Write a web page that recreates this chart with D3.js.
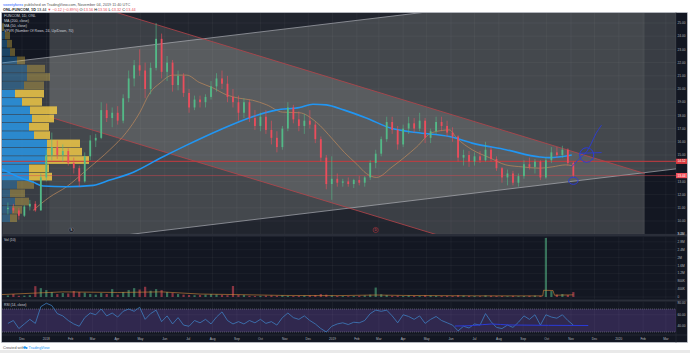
<!DOCTYPE html>
<html>
<head>
<meta charset="utf-8">
<script src="https://cdnjs.cloudflare.com/ajax/libs/d3/7.8.5/d3.min.js"></script>
<style>
  html, body { margin: 0; padding: 0; background: #fff; }
  svg { display: block; font-family: "Liberation Sans", Arial, sans-serif; }
</style>
</head>
<body>
<svg id="chart" width="690" height="353"></svg>
<script>
/* ---------- data (weekly bars) ---------- */
const weekOpen = [10.9,11.0,10.8,10.4,11.1,11.3,10.8,13.3,15.0,15.6, 15.0,15.3,14.4,14.0,13.0,14.9,16.1,16.3,18.4,17.8,
  18.2,17.6,19.3,20.8,21.8,21.4,20.0,21.6,23.8,21.3, 22.0,20.3,21.0,19.7,18.6,19.2,19.0,19.4,20.2,20.8,
  20.4,19.4,19.0,18.2,19.0,17.8,17.2,17.9,16.9,16.3, 15.6,17.0,18.6,17.7,17.2,17.6,17.3,16.2,14.8,12.8,
  13.2,12.9,13.0,12.8,13.1,12.9,13.3,14.4,15.1,16.2, 17.5,16.9,15.8,17.0,17.4,17.0,17.6,16.3,16.8,17.5,
  17.2,16.7,16.4,14.8,15.0,14.5,14.9,14.6,15.4,14.7, 14.0,13.3,13.6,12.9,13.4,14.3,14.1,14.5,13.3,14.6,
  15.2,15.0,15.4,14.4];
const weekHigh = [11.4,11.3,11.0,11.2,11.6,11.5,13.6,15.4,16.7,16.1, 15.8,15.5,14.8,14.2,15.2,16.5,16.6,19.0,18.9,18.6,
  18.7,19.6,21.4,22.2,23.0,22.0,22.0,25.0,24.2,22.5, 22.2,21.4,21.2,20.0,19.5,19.5,19.6,20.6,21.2,21.4,
  21.0,20.0,19.5,19.3,19.2,18.4,18.2,18.4,17.6,16.8, 17.2,19.0,18.8,18.3,18.1,18.4,17.5,16.4,15.0,14.9,
  13.6,13.2,13.3,13.2,13.4,13.4,14.6,15.4,16.4,17.9, 17.9,17.2,17.3,17.9,17.8,18.2,17.8,17.0,17.9,17.9,
  17.6,17.1,16.5,15.4,15.3,15.2,15.3,16.0,15.6,14.9, 14.1,13.9,13.8,13.6,14.6,14.8,14.7,14.6,14.8,15.6,
  15.6,15.7,15.5,14.5];
const weekLow = [10.5,10.6,10.1,10.3,10.8,10.7,10.8,13.0,14.6,14.7, 14.5,14.2,13.6,12.6,12.9,14.6,15.6,16.2,17.5,17.1,
  17.3,17.4,19.0,20.2,21.0,19.3,19.6,21.4,20.8,20.6, 19.8,19.9,19.4,18.2,18.4,18.6,18.6,19.2,19.8,20.0,
  19.0,18.6,17.6,17.8,17.5,16.9,16.8,16.6,15.8,15.2, 15.4,16.8,17.4,16.8,16.6,17.0,15.9,14.5,12.4,11.6,
  12.6,12.6,12.6,12.5,12.7,12.6,13.1,14.0,14.9,16.0, 16.6,15.4,15.6,16.6,16.7,16.8,15.9,15.9,16.6,16.8,
  16.4,16.0,14.5,14.2,14.1,14.2,14.4,14.5,14.5,13.8, 12.9,12.7,12.7,12.6,13.2,13.9,13.6,13.1,13.2,14.4,
  14.8,14.8,14.2,13.3];
const weekClose = [11.0,10.8,10.4,11.1,11.3,10.8,13.3,15.0,15.6,15.0, 15.3,14.4,14.0,13.0,14.9,16.1,16.3,18.4,17.8,18.2,
  17.6,19.3,20.8,21.8,21.4,20.0,21.6,23.8,21.3,22.0, 20.3,21.0,19.7,18.6,19.2,19.0,19.4,20.2,20.8,20.4,
  19.4,19.0,18.2,19.0,17.8,17.2,17.9,16.9,16.3,15.6, 17.0,18.6,17.7,17.2,17.6,17.3,16.2,14.8,12.8,13.2,
  12.9,13.0,12.8,13.1,12.9,13.3,14.4,15.1,16.2,17.5, 16.9,15.8,17.0,17.4,17.0,17.6,16.3,16.8,17.5,17.2,
  16.7,16.4,14.8,15.0,14.5,14.9,14.6,15.4,14.7,14.0, 13.3,13.6,12.9,13.4,14.3,14.1,14.5,13.3,14.6,15.2,
  15.0,15.4,14.4,13.44];
// volume in thousands
const weekVolK = [80,150,60,70,90,550,450,350,250,150, 200,180,300,250,220,150,120,200,150,400,
  120,250,350,450,380,520,320,400,350,250, 200,150,120,100,90,100,120,150,130,100,
  90,560,120,100,60,50,60,70,80,60, 90,60,50,60,70,80,100,150,120,80,
  60,50,40,50,60,80,120,480,140,100, 60,70,50,80,60,50,90,70,60,50,
  60,50,90,70,60,50,40,80,60,50, 50,40,60,40,50,60,70,60,3000,300,
  120,150,100,250];
const rsiWeekly = [45,50,36,44,52,45,74,80,76,62, 58,50,44,40,55,63,60,70,58,63,
  56,66,70,66,73,52,62,68,48,58, 44,55,42,40,50,46,52,44,56,65,
  50,44,48,44,50,46,52,45,48,42, 55,63,55,52,58,50,44,36,30,40,
  44,46,43,47,46,50,62,68,66,68, 58,46,60,57,52,58,45,52,57,50,
  46,42,32,40,37,44,42,62,48,38, 36,42,38,47,58,52,60,42,60,56,
  54,60,50,42];

// moving averages: [week number, value]
const ma200Pts = [[-1.4,14.0],[2.2,13.3],[4.6,12.95],[6.4,12.65],[10.7,12.6],[15.5,12.7],[18.6,13.1],[22.8,13.7],
  [27.7,14.75],[32.6,15.75],[38.6,16.9],[44.6,17.9],[48.9,18.4],[53.1,18.6],[55.5,18.85],[58,18.8],[61.3,18.4],
  [65.3,17.8],[70,17.0],[74.4,16.7],[80.4,16.4],[84.6,15.9],[90.7,15.4],[96.8,14.85],[98.6,14.8],[102.7,15.0]];
const ma50Pts = [[4.6,10.8],[7.6,11.8],[10.7,12.6],[14.4,13.9],[18.6,15.4],[21.6,16.7],[24,18.2],[25.8,19.7],
  [27.7,20.45],[30,21.05],[32.6,21.05],[34.9,20.5],[37.3,20.1],[39.8,19.55],[42.2,19.3],[44.6,19.15],[47.1,18.8],
  [50,18.25],[53.1,18.2],[56.2,17.5],[59.1,16.2],[61.3,15.2],[63.5,14.3],[65.3,13.6],[67.1,13.3],[70,14.1],
  [74.4,15.6],[77.3,16.7],[80.4,16.9],[81.7,16.3],[84.6,15.4],[87.7,14.8],[90.7,14.25],[93.7,14.1],[96.8,14.0],
  [99.1,14.1],[101.6,14.25],[102.7,14.2]];
const volMaPts = [[-1.4,120],[5,200],[10,260],[20,230],[28,260],[35,150],[42,120],[50,80],[60,70],[67,100],
  [72,80],[85,60],[97.4,55],[97.6,340],[99.3,330],[99.6,90],[103,110]];

// volume profile (24 rows, top row first)
const vpUp   = [0,3,5,8,15,25,25,22,13,20,28,30,27,32,45,45,43,27,27,15,8,13,10,8];
const vpDown = [2,5,5,5,8,18,23,20,29,20,27,22,20,16,33,35,44,20,23,17,15,14,10,7];
const vpValueArea = [8, 18];

// drawings: [date, price]
const descUpper = [["2018-01-05",27.35],["2020-02-03",13.6]];
const descLower = [["2018-01-05",17.88],["2020-02-03",4.17]];
const ascUpper  = [["2017-11-06",21.98],["2020-03-14",28.1]];
const ascLower  = [["2017-11-06",7.82],["2020-03-14",13.95]];
const rangeBox  = [["2018-01-05",26.5],["2020-02-03",8.0]];
const hLevels   = [14.52, 13.44];
const penCurve  = [["2019-11-02",14.11],["2019-11-12",14.75],["2019-11-21",15.25],["2019-11-27",15.89],["2019-12-03",16.64],["2019-12-10",17.27]];
const penDash   = [["2019-11-12",15.13],["2019-12-10",15.18]];
const penRings  = [["2019-11-21",15.0,9.3,0.55],["2019-11-04",13.05,6.4,0.27]];
const rsiPen    = [["2019-06-06",40.4],["2019-06-30",41.3],["2019-07-23",43.9],["2019-08-14",42.2],["2019-11-23",41.3]];
const eventMarks = [["2018-02-02","S"],["2019-02-25","D"]];

// axes
const priceTicks = [9,10,11,12,13,14,15,16,17,18,19,20,21,22,23,24,25];
const volTicks = [0,400,800,1200,1600,2000,2400,2800,3200];
const volTickLabels = ["0","400K","800K","1.2M","1.6M","2M","2.4M","2.8M","3.2M"];
const rsiTicks = [40,60,80];
const monthTicks = ["2017-12-01","2018-01-01","2018-02-01","2018-03-01","2018-04-01","2018-05-01","2018-06-01",
  "2018-07-01","2018-08-01","2018-09-01","2018-10-01","2018-11-01","2018-12-01","2019-01-01","2019-02-01",
  "2019-03-01","2019-04-01","2019-05-01","2019-06-01","2019-07-01","2019-08-01","2019-09-01","2019-10-01",
  "2019-11-01","2019-12-01","2020-01-01","2020-02-01","2020-03-01"];
const monthLabels = ["Dec","2018","Feb","Mar","Apr","May","Jun","Jul","Aug","Sep","Oct","Nov","Dec","2019","Feb",
  "Mar","Apr","May","Jun","Jul","Aug","Sep","Oct","Nov","Dec","2020","Feb","Mar"];

/* ---------- layout ---------- */
const svg = d3.select("#chart");
const paneL = 2, paneR = 676, axisR = 687;
const main = { top: 13, bottom: 234 };
const vol = { top: 236.5, bottom: 299.5 };
const rsi = { top: 301.5, bottom: 335 };
const BG = "#131722", TXT = "#b2b5be", GRID = "rgba(255,255,255,0.07)";
const UP = "#53b987", DOWN = "#eb4d5c";

const parse = d3.timeParse("%Y-%m-%d");
const firstWeek = parse("2017-11-13");
const weekAt = w => d3.timeDay.offset(firstWeek, Math.round(w * 7));
const weekDates = weekClose.map((_, i) => weekAt(i));

const x = d3.scaleTime().domain([parse("2017-12-01"), parse("2019-11-01")]).range([22, 571]);
const yP = d3.scaleLinear().domain([9, 25]).range([234.2, 23]);
const yV = d3.scaleLinear().domain([0, 3200]).range([297, 234]);
const yR = d3.scaleLinear().domain([30, 70]).range([332, 309]);
const vpW = d3.scaleLinear().domain([0, 100]).range([0, 100]);

/* ---------- header / frame ---------- */
svg.append("rect").attr("width", 690).attr("height", 353).attr("fill", "#fff");
svg.append("rect").attr("x", 0).attr("y", 350).attr("width", 690).attr("height", 3).attr("fill", "#e9e9e9");

const h1 = svg.append("text").attr("x", 3).attr("y", 5.6).attr("font-size", 3.8).attr("fill", "#555");
h1.append("tspan").attr("fill", "#2962ff").text("sweetyforex");
h1.append("tspan").text(" published on TradingView.com, November 04, 2019 11:40 UTC");

const h2 = svg.append("text").attr("x", 3).attr("y", 10.6).attr("font-size", 3.8).attr("fill", "#131722");
h2.append("tspan").attr("font-weight", "bold").text("ONL:FUNCOM, 1D");
h2.append("tspan").text(" 13.44 ");
h2.append("tspan").attr("fill", DOWN).text("▼ −0.12 (−0.89%)");
[["O:", "13.56"], ["H:", "13.56"], ["L:", "13.32"], ["C:", "13.44"]].forEach(([k, v]) => {
  h2.append("tspan").text(" " + k);
  h2.append("tspan").attr("fill", DOWN).text(v);
});

svg.append("rect").attr("x", paneL - 0.5).attr("y", 12.5).attr("width", axisR - paneL + 1).attr("height", 330)
  .attr("fill", BG).attr("stroke", "#d1d4dc").attr("stroke-width", 0.6);
// pane separators
[[main.bottom, vol.top], [vol.bottom, rsi.top]].forEach(([a, b]) => {
  svg.append("rect").attr("x", paneL).attr("y", a).attr("width", axisR - paneL).attr("height", b - a).attr("fill", "#2a2e39");
});
svg.append("line").attr("x1", paneL).attr("x2", axisR).attr("y1", rsi.bottom).attr("y2", rsi.bottom)
  .attr("stroke", "#2a2e39").attr("stroke-width", 0.8);
svg.append("line").attr("x1", paneR).attr("x2", paneR).attr("y1", 12.5).attr("y2", 342.5)
  .attr("stroke", "#2a2e39").attr("stroke-width", 0.6);

/* ---------- clip paths ---------- */
const defs = svg.append("defs");
function clip(id, top, bottom) {
  defs.append("clipPath").attr("id", id).append("rect")
    .attr("x", paneL).attr("y", top).attr("width", paneR - paneL).attr("height", bottom - top);
  return svg.append("g").attr("clip-path", `url(#${id})`);
}
const gMain = clip("cMain", main.top, main.bottom);
const gVol = clip("cVol", vol.top, vol.bottom);
const gRsi = clip("cRsi", rsi.top, rsi.bottom);

/* ---------- grids ---------- */
function vGrid(g, top, bottom) {
  g.selectAll(null).data(monthTicks).join("line")
    .attr("x1", d => x(parse(d))).attr("x2", d => x(parse(d)))
    .attr("y1", top).attr("y2", bottom).attr("stroke", GRID).attr("stroke-width", 0.6);
}
vGrid(gMain, main.top, main.bottom);
vGrid(gVol, vol.top, vol.bottom);
vGrid(gRsi, rsi.top, rsi.bottom);
gMain.selectAll(null).data(priceTicks).join("line")
  .attr("x1", paneL).attr("x2", paneR).attr("y1", d => yP(d)).attr("y2", d => yP(d))
  .attr("stroke", GRID).attr("stroke-width", 0.6);
gVol.selectAll(null).data(volTicks).join("line")
  .attr("x1", paneL).attr("x2", paneR).attr("y1", d => yV(d)).attr("y2", d => yV(d))
  .attr("stroke", GRID).attr("stroke-width", 0.6);

/* ---------- drawings: box and channels ---------- */
const pt = d => [x(parse(d[0])), yP(d[1])];
const FILL = "rgb(198,202,192)";
gMain.append("rect")
  .attr("x", pt(rangeBox[0])[0]).attr("y", pt(rangeBox[0])[1])
  .attr("width", pt(rangeBox[1])[0] - pt(rangeBox[0])[0])
  .attr("height", pt(rangeBox[1])[1] - pt(rangeBox[0])[1])
  .attr("fill", FILL).attr("fill-opacity", 0.08);
function channel(up, lo, op, stroke) {
  const poly = [pt(up[0]), pt(up[1]), pt(lo[1]), pt(lo[0])];
  gMain.append("path").attr("d", "M" + poly.join("L") + "Z").attr("fill", FILL).attr("fill-opacity", op);
  [up, lo].forEach(l => gMain.append("line")
    .attr("x1", pt(l[0])[0]).attr("y1", pt(l[0])[1]).attr("x2", pt(l[1])[0]).attr("y2", pt(l[1])[1])
    .attr("stroke", stroke).attr("stroke-width", 0.8));
}
channel(ascUpper, ascLower, 0.22, "#9a9da5");
channel(descUpper, descLower, 0.16, "#b8444a");

/* ---------- volume profile ---------- */
const rowH = (yP(9.9) - yP(25)) / vpUp.length;
vpUp.forEach((u, i) => {
  const inVA = i >= vpValueArea[0] && i <= vpValueArea[1];
  const y0 = yP(25) + i * rowH;
  gMain.append("rect").attr("x", paneL).attr("y", y0 + 0.3).attr("width", vpW(u)).attr("height", rowH - 0.6)
    .attr("fill", inVA ? "rgba(41,151,230,0.85)" : "rgba(41,151,230,0.35)");
  gMain.append("rect").attr("x", paneL + vpW(u)).attr("y", y0 + 0.3).attr("width", vpW(vpDown[i])).attr("height", rowH - 0.6)
    .attr("fill", inVA ? "rgba(240,200,70,0.85)" : "rgba(240,200,70,0.35)");
});

/* ---------- horizontal levels ---------- */
gMain.append("line").attr("x1", paneL).attr("x2", paneR).attr("y1", yP(hLevels[0])).attr("y2", yP(hLevels[0]))
  .attr("stroke", "#c23b40").attr("stroke-width", 1.1).attr("stroke-opacity", 0.85);
gMain.append("line").attr("x1", paneL).attr("x2", paneR).attr("y1", yP(hLevels[1])).attr("y2", yP(hLevels[1]))
  .attr("stroke", "#d9454d").attr("stroke-width", 0.6).attr("stroke-opacity", 0.8);

/* ---------- moving averages ---------- */
const maLine = d3.line().curve(d3.curveMonotoneX).x(d => x(weekAt(d[0]))).y(d => yP(d[1]));
gMain.append("path").attr("d", maLine(ma50Pts)).attr("fill", "none").attr("stroke", "#c08a5a").attr("stroke-width", 0.7);
gMain.append("path").attr("d", maLine(ma200Pts)).attr("fill", "none").attr("stroke", "#2196f3").attr("stroke-width", 1.6);

/* ---------- candles ---------- */
const candles = gMain.selectAll(null).data(weekDates).join("g");
candles.append("line")
  .attr("x1", d => x(d)).attr("x2", d => x(d))
  .attr("y1", (d, i) => yP(weekHigh[i])).attr("y2", (d, i) => yP(weekLow[i]))
  .attr("stroke", (d, i) => weekClose[i] >= weekOpen[i] ? UP : DOWN).attr("stroke-width", 0.6);
candles.append("rect")
  .attr("x", d => x(d) - 0.9).attr("width", 1.8)
  .attr("y", (d, i) => yP(Math.max(weekOpen[i], weekClose[i])))
  .attr("height", (d, i) => Math.max(0.6, Math.abs(yP(weekOpen[i]) - yP(weekClose[i]))))
  .attr("fill", (d, i) => weekClose[i] >= weekOpen[i] ? UP : DOWN);

/* ---------- pen annotations ---------- */
const PEN = "#2b3bd8";
const penLine = d3.line().curve(d3.curveCatmullRom).x(d => x(parse(d[0]))).y(d => yP(d[1]));
gMain.append("path").attr("d", penLine(penCurve)).attr("fill", "none").attr("stroke", PEN).attr("stroke-width", 0.9);
gMain.append("path").attr("d", penLine(penDash)).attr("fill", "none").attr("stroke", PEN).attr("stroke-width", 0.9);
penRings.forEach(([d, p, dd, dp]) => {
  const cx = x(parse(d));
  gMain.append("ellipse").attr("cx", cx).attr("cy", yP(p))
    .attr("rx", x(d3.timeDay.offset(parse(d), dd)) - cx).attr("ry", yP(p - dp) - yP(p))
    .attr("fill", "none").attr("stroke", PEN).attr("stroke-width", 1);
});

/* ---------- event markers ---------- */
eventMarks.forEach(([d, l]) => {
  const cx = x(parse(d)), red = l === "D";
  gMain.append("circle").attr("cx", cx).attr("cy", 230).attr("r", 2.6)
    .attr("fill", "#1e222d").attr("stroke", red ? "#c23b40" : "#6b6f7a").attr("stroke-width", 0.5);
  gMain.append("text").attr("x", cx).attr("y", 231.2).attr("text-anchor", "middle")
    .attr("font-size", 3.2).attr("fill", red ? "#e0525a" : "#d1d4dc").text(l);
});

/* ---------- legend ---------- */
["FUNCOM, 1D, ONL", "MA (200, close)", "MA (50, close)", "VPVR (Number Of Rows, 24, Up/Down, 70)"].forEach((t, i) => {
  svg.append("text").attr("x", 4).attr("y", 17.3 + i * 5).attr("font-size", 3.6).attr("fill", "#d1d4dc").text(t);
});

/* ---------- price axis ---------- */
svg.selectAll(null).data(priceTicks.filter(p => p !== 14)).join("text")
  .attr("x", 677.5).attr("y", d => yP(d) + 1.1).attr("font-size", 3.2).attr("fill", TXT)
  .text(d => d.toFixed(2));
[[hLevels[0], "#d93a3f"], [hLevels[1], "#f0505a"]].forEach(([p, c]) => {
  svg.append("rect").attr("x", paneR).attr("y", yP(p) - 2.6).attr("width", axisR - paneR).attr("height", 5.2).attr("fill", c);
  svg.append("text").attr("x", 677.5).attr("y", yP(p) + 1.1).attr("font-size", 3.2).attr("fill", "#fff").text(p.toFixed(2));
});

/* ---------- volume pane ---------- */
gVol.selectAll(null).data(weekDates).join("rect")
  .attr("x", d => x(d) - 1.1).attr("width", 2.2)
  .attr("y", (d, i) => yV(weekVolK[i])).attr("height", (d, i) => yV(0) - yV(weekVolK[i]))
  .attr("fill", (d, i) => weekClose[i] >= weekOpen[i] ? "rgba(83,185,135,0.55)" : "rgba(235,77,92,0.55)");
gVol.append("path").attr("d", d3.line().x(d => x(weekAt(d[0]))).y(d => yV(d[1]))(volMaPts))
  .attr("fill", "none").attr("stroke", "#d98b3a").attr("stroke-width", 0.6);
svg.append("text").attr("x", 4).attr("y", 241).attr("font-size", 3.4).attr("fill", "#d1d4dc").text("Vol (10)");
svg.selectAll(null).data(volTicks).join("text")
  .attr("x", 677.5).attr("y", d => yV(d) + 1.1).attr("font-size", 3.2).attr("fill", TXT)
  .text((d, i) => volTickLabels[i]);

/* ---------- RSI pane ---------- */
gRsi.append("rect").attr("x", paneL).attr("y", yR(70)).attr("width", paneR - paneL).attr("height", yR(30) - yR(70))
  .attr("fill", "rgba(126,87,194,0.28)");
[70, 30].forEach(v => gRsi.append("line").attr("x1", paneL).attr("x2", paneR).attr("y1", yR(v)).attr("y2", yR(v))
  .attr("stroke", "#8a8d96").attr("stroke-width", 0.5).attr("stroke-dasharray", "1,1"));
gRsi.append("line").attr("x1", paneL).attr("x2", paneR).attr("y1", yR(60)).attr("y2", yR(60)).attr("stroke", GRID).attr("stroke-width", 0.6);
gRsi.append("path").attr("d", d3.line().x((d, i) => x(weekDates[i])).y(d => yR(d))(rsiWeekly))
  .attr("fill", "none").attr("stroke", "#3f7fc0").attr("stroke-width", 0.8);
gRsi.append("path").attr("d", d3.line().curve(d3.curveMonotoneX).x(d => x(parse(d[0]))).y(d => yR(d[1]))(rsiPen))
  .attr("fill", "none").attr("stroke", PEN).attr("stroke-width", 1);
svg.append("text").attr("x", 4).attr("y", 306).attr("font-size", 3.4).attr("fill", "#d1d4dc").text("RSI (14, close)");
svg.selectAll(null).data(rsiTicks).join("text")
  .attr("x", 677.5).attr("y", d => yR(d) + 1.1).attr("font-size", 3.2).attr("fill", TXT)
  .text(d => d.toFixed(2));

/* ---------- time axis ---------- */
svg.selectAll(null).data(monthTicks).join("text")
  .attr("x", d => x(parse(d))).attr("y", 340.3).attr("text-anchor", "middle")
  .attr("font-size", 3.2).attr("fill", TXT).text((d, i) => monthLabels[i]);

/* ---------- footer ---------- */
const foot = svg.append("text").attr("x", 3).attr("y", 348.8).attr("font-size", 3.8).attr("fill", "#555");
foot.append("tspan").text("Created with ");
svg.append("circle").attr("cx", 24.8).attr("cy", 347.5).attr("r", 1.3).attr("fill", "#2196f3");
svg.append("circle").attr("cx", 26.6).attr("cy", 347.9).attr("r", 1.0).attr("fill", "#2196f3");
svg.append("text").attr("x", 28.6).attr("y", 348.8).attr("font-size", 3.8).attr("fill", "#2196f3").text("TradingView");
</script>
</body>
</html>
